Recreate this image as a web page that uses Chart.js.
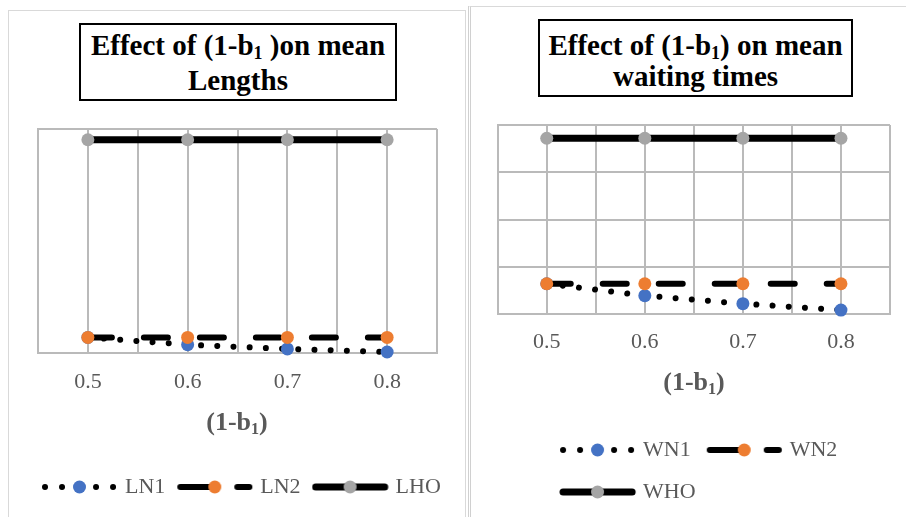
<!DOCTYPE html>
<html>
<head>
<meta charset="utf-8">
<script src="https://cdn.jsdelivr.net/npm/chart.js@4.4.0/dist/chart.umd.min.js"></script>
<style>
  html, body { margin: 0; padding: 0; width: 906px; height: 517px; overflow: hidden; background: #fff; }
  .panel { position: absolute; border: 1px solid #d9d9d9; box-sizing: border-box; }
  #panelL { left: 8px; top: 10px; width: 458px; height: 530px; }
  #panelR { left: 468px; top: 6px; width: 460px; height: 530px; border-left: 3px double #d0d0d0; }
  .title { position: absolute; border: 2px solid #000; box-sizing: border-box; text-align: center; color: #000;
           font-family: 'Liberation Serif', 'Times New Roman', serif; font-weight: bold; font-size: 29px; white-space: nowrap; }
  #titleL { left: 79px; top: 23px; width: 318px; height: 78px; line-height: 35px; padding-top: 2.7px; }
  #titleR { left: 538px; top: 19px; width: 315px; height: 78px; line-height: 31px; padding-top: 8.7px; }
  .axtitle { position: absolute; transform: translate(-50%, -50%); white-space: nowrap; color: #595959;
             font-family: 'Liberation Serif', 'Times New Roman', serif; font-weight: bold; font-size: 26px; line-height: 30px; }
  #axL { left: 237px; top: 422px; }
  #axR { left: 694px; top: 382px; }
  sub { font-size: 0.62em; vertical-align: -0.25em; line-height: 0; }
  canvas { position: absolute; top: 0; }
  #chartL { left: 0; }
  #chartR { left: 470px; }
</style>
</head>
<body>
<div class="panel" id="panelL"></div>
<div class="panel" id="panelR"></div>
<div class="title" id="titleL">Effect of (1-b<sub>1</sub> )on mean<br>Lengths</div>
<div class="title" id="titleR">Effect of (1-b<sub>1</sub>) on mean<br>waiting times</div>
<canvas id="chartL" width="466" height="517"></canvas>
<canvas id="chartR" width="436" height="517"></canvas>
<div class="axtitle" id="axL">(1-b<sub>1</sub>)</div>
<div class="axtitle" id="axR">(1-b<sub>1</sub>)</div>
<script>
const xValues = [0.5, 0.6, 0.7, 0.8];
const xTickLabels = ['0.5', '0.6', '0.7', '0.8'];

// mean lengths
const LN1 = [1.39, 0.74, 0.36, 0.09];
const LN2 = [1.39, 1.39, 1.39, 1.39];
const LHO = [19.04, 19.04, 19.04, 19.04];

// mean waiting times
const WN1 = [3.23, 1.97, 1.12, 0.45];
const WN2 = [3.23, 3.23, 3.23, 3.23];
const WHO = [18.6, 18.6, 18.6, 18.6];

const BLUE = '#4472C4';
const ORANGE = '#ED7D31';
const GREY = '#A5A5A5';
const GRID = '#bababa';
const TEXT = '#595959';
const FONT = "'Liberation Serif', 'Times New Roman', serif";

const lineStyles = {
    dot: { borderWidth: 6, borderDash: [0.01, 16.2], borderCapStyle: 'round' },
    dash: { borderWidth: 6, borderDash: [24, 32], borderCapStyle: 'round' },
    solid: { borderWidth: 7, borderDash: [], borderCapStyle: 'butt' }
};

// little line + marker picture used as the legend symbol
function legendSample(kind, color) {
    const c = document.createElement('canvas');
    c.width = 78;
    c.height = 16;
    const g = c.getContext('2d');
    g.strokeStyle = '#000';
    g.lineCap = 'round';
    let end = 73.1;
    if (kind === 'dot') {
        g.lineWidth = 6;
        g.setLineDash([0.01, 17]);
        end = 72.1;
    } else if (kind === 'dash') {
        g.lineWidth = 6;
        g.setLineDash([30, 27]);
    } else {
        g.lineWidth = 7;
    }
    g.beginPath();
    g.moveTo(4, 8);
    g.lineTo(end, 8);
    g.stroke();
    g.setLineDash([]);
    g.fillStyle = color;
    g.beginPath();
    g.arc(38.5, 8, 6.5, 0, Math.PI * 2);
    g.fill();
    return c;
}

function series(label, values, kind, color, order) {
    return Object.assign({
        label: label,
        data: xValues.map((x, i) => ({ x: x, y: values[i] })),
        borderColor: '#000',
        pointRadius: 6.5,
        pointBorderWidth: 0,
        pointBackgroundColor: color,
        pointStyle: 'circle',
        tension: 0,
        clip: false,
        order: order,
        sample: legendSample(kind, color)
    }, lineStyles[kind]);
}

function tickLabel(v) {
    const i = xValues.findIndex(x => Math.abs(x - v) < 1e-6);
    return i < 0 ? '' : xTickLabels[i];
}

// keeps the second legend row starting under the first one
const rowAlign = {
    id: 'rowAlign',
    beforeDraw(chart) {
        const lw = chart.legend && chart.legend.lineWidths;
        if (lw) {
            for (let i = 1; i < lw.length; i++) lw[i] = lw[0];
        }
    }
};

function makeChart(id, datasets, o) {
    return new Chart(document.getElementById(id), {
        type: 'line',
        data: { datasets: datasets },
        plugins: o.plugins || [],
        options: {
            responsive: false,
            animation: false,
            devicePixelRatio: 1,
            events: [],
            layout: { padding: o.padding },
            plugins: {
                tooltip: { enabled: false },
                title: { display: false },
                legend: {
                    position: 'bottom',
                    align: 'center',
                    labels: {
                        usePointStyle: true,
                        pointStyleWidth: 68,
                        padding: o.legendPadding,
                        color: TEXT,
                        font: { family: FONT, size: 22 },
                        sort: (a, b) => a.datasetIndex - b.datasetIndex,
                        generateLabels(chart) {
                            const items = Chart.defaults.plugins.legend.labels.generateLabels(chart);
                            items.forEach(it => {
                                it.pointStyle = chart.data.datasets[it.datasetIndex].sample;
                                it.lineWidth = 0;
                            });
                            return items;
                        }
                    }
                }
            },
            scales: {
                x: {
                    type: 'linear',
                    position: 'bottom',
                    min: 0.45,
                    max: 0.85,
                    afterFit: s => { s.height = o.xHeight; },
                    grid: { color: GRID, lineWidth: 2, drawTicks: false },
                    border: { display: true, color: GRID, width: 2 },
                    ticks: {
                        stepSize: 0.05,
                        autoSkip: false,
                        maxRotation: 0,
                        padding: o.tickPad,
                        color: TEXT,
                        font: { family: FONT, size: 22 },
                        callback: tickLabel
                    }
                },
                y: {
                    min: 0,
                    max: 20,
                    afterFit: s => { s.width = o.yWidth; },
                    grid: { color: GRID, lineWidth: 2, drawTicks: false },
                    border: { display: true, color: GRID, width: 2 },
                    ticks: { display: false, stepSize: o.yStep }
                },
                yr: {
                    position: 'right',
                    display: true,
                    afterFit: s => { s.width = o.rightWidth; },
                    grid: { display: false },
                    border: { display: false },
                    ticks: { display: false }
                }
            }
        }
    });
}

makeChart('chartL', [
    series('LN1', LN1, 'dot', BLUE, 3),
    series('LN2', LN2, 'dash', ORANGE, 2),
    series('LHO', LHO, 'solid', GREY, 1)
], {
    padding: { left: 20.8, right: 0, top: 129, bottom: 9 },
    yWidth: 38 - 20.8,
    rightWidth: 29,
    xHeight: 107,
    tickPad: 16,
    yStep: 20,
    legendPadding: 16
});

makeChart('chartR', [
    series('WN1', WN1, 'dot', BLUE, 3),
    series('WN2', WN2, 'dash', ORANGE, 2),
    series('WHO', WHO, 'solid', GREY, 1)
], {
    padding: { left: 25.4, right: 0, top: 125, bottom: 4 },
    yWidth: 27.7 - 25.4,
    rightWidth: 16,
    xHeight: 104.7,
    tickPad: 15,
    yStep: 5,
    legendPadding: 20,
    plugins: [rowAlign]
});
</script>
</body>
</html>
